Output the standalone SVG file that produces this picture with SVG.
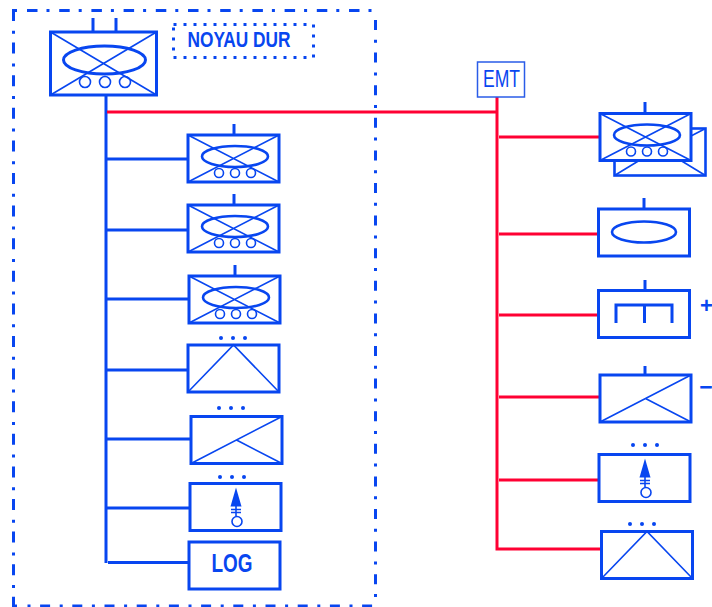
<svg xmlns="http://www.w3.org/2000/svg" width="712" height="607" viewBox="0 0 712 607">
<style>
.b{fill:#fff;stroke:#0846f0;stroke-width:3}
.t{fill:none;stroke:#0846f0;stroke-width:1.6}
.m{fill:none;stroke:#0846f0;stroke-width:2.6}
.e{fill:none;stroke:#0846f0;stroke-width:3}
.w{fill:none;stroke:#0846f0;stroke-width:3}
.r{fill:none;stroke:#ff0033;stroke-width:3}
.d{fill:#0846f0}
.o{fill:none;stroke:#0846f0;stroke-width:3}
text{fill:#0846f0;font-family:"Liberation Sans Narrow","Liberation Sans",Arial,sans-serif}
</style>
<defs>
<g id="full">
<rect class="b" x="0" y="0" width="91" height="47"/>
<path class="t" d="M0 0L91 47M91 0L0 47"/>
<ellipse class="m" cx="47" cy="21.500" rx="33" ry="10.500"/>
<circle class="t" cx="31" cy="38" r="4.500"/><circle class="t" cx="47" cy="38" r="4.500"/><circle class="t" cx="63" cy="38" r="4.500"/>
</g>
<g id="peak">
<rect class="b" x="0" y="0" width="91" height="47"/>
<path class="t" d="M0 47L45.500 0L91 47"/>
</g>
<g id="side">
<rect class="b" x="0" y="0" width="91" height="47"/>
<path class="t" d="M0 47L91 0M45.500 23.500L91 47"/>
</g>
<g id="arrow">
<rect class="b" x="0" y="0" width="91" height="47"/>
<path class="d" d="M46 4L51.500 23H40.500Z"/>
<path class="t" d="M46 22V33M41 26H51M41 29H51"/>
<circle class="t" cx="47" cy="38" r="5"/>
</g>
<g id="dots"><circle class="d" cx="0" cy="0" r="2"/><circle class="d" cx="12" cy="0" r="2"/><circle class="d" cx="24" cy="0" r="2"/></g>
</defs>
<g id="outer-border">
<path class="o" d="M12 10.500H17M27 10.500H373" stroke-dasharray="10.500 9 3 9.700"/>
<path class="o" d="M375.500 20V605" stroke-dasharray="10 9.800 3 9.800"/>
<path class="o" d="M13.500 10V606" stroke-dasharray="11 9.800 3 8.800"/>
<path class="o" d="M12 606H17"/>
<path class="o" d="M27.500 606H375" stroke-dasharray="3 9.600 10 9.600"/>
</g>
<g id="connectors">
<path class="w" d="M106 95V563M107 159H187M107 230H188M107 299H189M107 370H188M107 439H191M107 508H190M108 562.500H189"/>
<path class="r" d="M107 112H497M497 97V549H601M499 137H600M499 234H598M499 315H598M499 397H599M499 480H598"/>
</g>
<g id="noyau-dur">
<rect x="173.500" y="24.500" width="140" height="33" fill="none" stroke="#0846f0" stroke-width="3" stroke-dasharray="3 7"/>
<text x="239" y="47" font-size="22" font-weight="700" text-anchor="middle" textLength="103" lengthAdjust="spacingAndGlyphs">NOYAU DUR</text>
</g>
<g id="main-node">
<path class="w" d="M93 18V32M116 18V32"/>
<rect class="b" x="50.500" y="32" width="106" height="63"/>
<path class="t" d="M50.500 32L156.500 95M156.500 32L50.500 95"/>
<ellipse class="e" cx="104.500" cy="60" rx="41" ry="14"/>
<circle class="t" cx="85" cy="82" r="5.500"/><circle class="t" cx="105" cy="82" r="5.500"/><circle class="t" cx="125" cy="82" r="5.500"/>
</g>
<g id="l1"><path class="w" d="M234 124V135"/><use href="#full" x="188" y="135"/></g>
<g id="l2"><path class="w" d="M234 194V205"/><use href="#full" x="188" y="205"/></g>
<g id="l3"><path class="w" d="M235 265V276"/><use href="#full" x="189" y="276"/></g>
<g id="l4"><use href="#dots" x="221" y="338"/><use href="#peak" x="188" y="345"/></g>
<g id="l5"><use href="#dots" x="219" y="408"/><use href="#side" x="191" y="416.500"/></g>
<g id="l6"><use href="#dots" x="220" y="477"/><use href="#arrow" x="190" y="483.500"/></g>
<g id="log">
<rect class="b" x="189" y="542" width="91" height="47"/>
<text x="232" y="572" font-size="25" font-weight="700" text-anchor="middle" textLength="41" lengthAdjust="spacingAndGlyphs">LOG</text>
</g>
<g id="emt">
<rect x="477.500" y="62" width="47" height="35" fill="#fff" stroke="#2a5ce8" stroke-width="1.500"/>
<text x="501.500" y="87" font-size="24" text-anchor="middle" textLength="37" lengthAdjust="spacingAndGlyphs">EMT</text>
</g>
<g id="r1">
<path class="w" d="M645 102V113"/>
<rect class="m" x="614.500" y="128.500" width="91" height="47"/>
<path class="t" d="M614.500 175.500L640 160M680 160L705.500 175.500M691 136L705.500 128.500"/>
<use href="#full" x="600" y="113.500"/>
</g>
<g id="r2">
<path class="w" d="M644 198V209"/>
<rect class="b" x="598.500" y="209" width="91" height="47"/>
<ellipse class="m" cx="644" cy="232" rx="32" ry="10.500"/>
</g>
<g id="r3">
<path class="w" d="M645 280V290"/>
<rect class="b" x="598.500" y="290.500" width="91" height="47"/>
<path class="w" d="M616 323V305H672V323M644.500 305V323"/>
<text x="706.500" y="313" font-size="22" font-weight="700" text-anchor="middle">+</text>
</g>
<g id="r4">
<path class="w" d="M645 366V375"/>
<use href="#side" x="600" y="375"/>
<text x="706" y="395" font-size="23" font-weight="700" text-anchor="middle">−</text>
</g>
<g id="r5"><use href="#dots" x="633" y="445"/><use href="#arrow" x="599" y="454.500"/></g>
<g id="r6"><use href="#dots" x="630" y="524"/><use href="#peak" x="601.500" y="531.500"/></g>
</svg>
